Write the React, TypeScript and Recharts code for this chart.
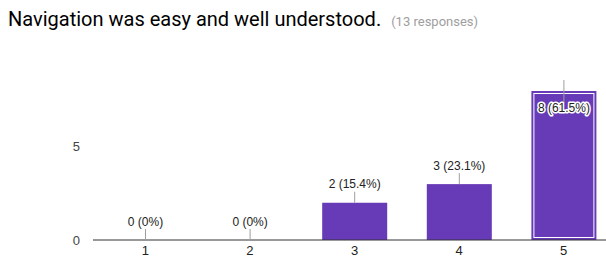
import { BarChart, Bar, XAxis, YAxis, LabelList } from "recharts";

const ratings = ["1", "2", "3", "4", "5"];
const counts = [0, 0, 2, 3, 8];
const yTicks = [0, 5];
const highlighted = "5";
const title = "Navigation was easy and well understood.";

const total = counts.reduce((a, b) => a + b, 0);
const data = ratings.map((rating, i) => ({ rating, count: counts[i] }));

const PLOT_TOP = 91;
const FONT = "Arial, 'Liberation Sans', sans-serif";

const fmtPct = (v: number) => `${Math.round((v / total) * 1000) / 10}%`;

// leader line + "n (p%)" label; moved inside the bar if it would not fit above
const BarLabel = (props: any) => {
  const { x, y, width, value } = props;
  const cx = x + width / 2;
  const text = `${value} (${fmtPct(value)})`;
  const inside = y - 24 < PLOT_TOP - 10;
  if (inside) {
    return (
      <g>
        <line x1={cx} x2={cx} y1={y - 11} y2={y + 12} stroke="#9e9e9e" />
        <text
          x={cx}
          y={y + 21}
          textAnchor="middle"
          fontSize={12}
          fontFamily={FONT}
          fill="#222"
          stroke="#fff"
          strokeWidth={3}
          strokeLinejoin="round"
          style={{ paintOrder: "stroke" }}
        >
          {text}
        </text>
      </g>
    );
  }
  return (
    <g>
      <line x1={cx} x2={cx} y1={y - 11} y2={y} stroke="#9e9e9e" />
      <text x={cx} y={y - 14.5} textAnchor="middle" fontSize={12} fontFamily={FONT} fill="#222">
        {text}
      </text>
    </g>
  );
};

const BarShape = (props: any) => {
  const { x, y, width, height, payload } = props;
  if (!height) return null;
  return (
    <g>
      <rect x={x} y={y} width={width} height={height} fill="#673ab7" />
      {payload.rating === highlighted && (
        <rect x={x + 2.5} y={y + 2.5} width={width - 5} height={height - 5} fill="none" stroke="#fff" strokeWidth={1} />
      )}
    </g>
  );
};

export default function App() {
  return (
    <div style={{ position: "absolute", left: 0, top: 0, width: 606, height: 260, overflow: "hidden", background: "#fff" }}>
      <div
        style={{
          position: "absolute",
          left: 8,
          top: 7,
          lineHeight: "24px",
          whiteSpace: "nowrap",
          fontFamily: "Roboto, sans-serif",
        }}
      >
        <span style={{ fontSize: 20, color: "#000" }}>{title}</span>
        <span style={{ fontSize: 13, color: "#9e9e9e", marginLeft: 10 }}>({total} responses)</span>
      </div>
      <BarChart
        width={620}
        height={260}
        data={data}
        margin={{ top: PLOT_TOP, right: 4, bottom: 0, left: 0 }}
        barSize={65}
      >
        <XAxis
          dataKey="rating"
          height={20}
          tickLine={false}
          tickSize={0}
          tickMargin={6}
          axisLine={{ stroke: "#333" }}
          tick={{ fontSize: 13, fill: "#222", fontFamily: FONT }}
        />
        <YAxis
          width={93}
          domain={[0, 8]}
          ticks={yTicks}
          axisLine={false}
          tickLine={false}
          tickSize={0}
          tickMargin={13}
          tick={{ fontSize: 13, fill: "#444", fontFamily: FONT }}
        />
        <Bar dataKey="count" shape={<BarShape />} isAnimationActive={false}>
          <LabelList dataKey="count" content={<BarLabel />} />
        </Bar>
      </BarChart>
    </div>
  );
}
